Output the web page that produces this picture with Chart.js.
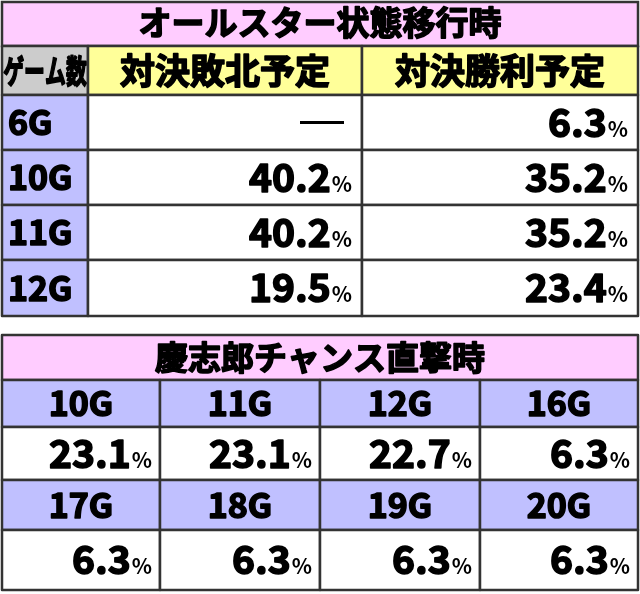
<!DOCTYPE html>
<html><head><meta charset="utf-8">
<script src="https://cdn.jsdelivr.net/npm/chart.js@4"></script>
<style>html,body{margin:0;padding:0;background:#fff}#c{display:block}</style>
</head><body>
<div style="width:640px;height:594px"><canvas id="c"></canvas></div>
<script>
const title1 = "オールスター状態移行時";
const corner1 = "ゲーム数";
const columns1 = ["対決敗北予定", "対決勝利予定"];
const games1 = ["6G", "10G", "11G", "12G"];
const lose1 = [null, 40.2, 40.2, 19.5];
const win1 = [6.3, 35.2, 35.2, 23.4];

const title2 = "慶志郎チャンス直撃時";
const games2 = ["10G", "11G", "12G", "16G", "17G", "18G", "19G", "20G"];
const values2 = [23.1, 23.1, 22.7, 6.3, 6.3, 6.3, 6.3, 6.3];

const FONT = '"Noto Sans CJK JP", "Noto Sans", sans-serif';
const BORDER = "#333";

function tablePlugin() {
    return {
        id: "table",
        afterDraw(chart) {
            const ctx = chart.ctx;
            const xs = chart.scales.x, ys = chart.scales.y;
            const X = v => xs.getPixelForValue(v);
            const Y = v => ys.getPixelForValue(v);

            function cell(x0, y0, x1, y1, fill) {
                ctx.fillStyle = fill;
                ctx.fillRect(X(x0), Y(y0), X(x1) - X(x0), Y(y1) - Y(y0));
                ctx.strokeStyle = BORDER;
                ctx.lineWidth = 2.5;
                ctx.strokeRect(X(x0), Y(y0), X(x1) - X(x0), Y(y1) - Y(y0));
            }
            function heavy(s, x, y) {
                ctx.fillStyle = "#000";
                ctx.strokeStyle = "#000";
                ctx.lineWidth = 1.6;
                ctx.lineJoin = "round";
                ctx.fillText(s, x, y);
                ctx.strokeText(s, x, y);
            }
            function text(s, x, y, size, align) {
                ctx.font = "bold " + size + "px " + FONT;
                ctx.textAlign = align;
                ctx.textBaseline = "middle";
                heavy(s, X(x), Y(y));
            }
            function pct(v, xr, y) {
                ctx.textBaseline = "alphabetic";
                ctx.textAlign = "right";
                ctx.font = "bold 21px " + FONT;
                const w = ctx.measureText("%").width;
                ctx.fillStyle = "#000";
                ctx.fillText("%", X(xr), Y(y) + 14);
                ctx.font = "bold 39px " + FONT;
                heavy(v.toFixed(1), X(xr) - w - 1, Y(y) + 14);
            }

            // table 1
            cell(2, 2, 638, 46, "#ffccff");
            text(title1, 320, 22, 33, "center");
            cell(2, 46, 88, 95, "#cccccc");
            ctx.save();
            ctx.translate(X(45), Y(71)); ctx.scale(0.72, 1.1);
            ctx.font = "bold 29px " + FONT;
            ctx.textAlign = "center"; ctx.textBaseline = "middle";
            heavy(corner1, 0, 0);
            ctx.restore();
            const c1 = [88, 362, 638];
            columns1.forEach((s, i) => {
                cell(c1[i], 46, c1[i + 1], 95, "#ffff99");
                text(s, (c1[i] + c1[i + 1]) / 2, 71, 35, "center");
            });
            const r1 = [95, 150, 205, 260, 316];
            games1.forEach((g, i) => {
                const ym = (r1[i] + r1[i + 1]) / 2;
                cell(2, r1[i], 88, r1[i + 1], "#c0c0ff");
                text(g, 8, ym, 34, "left");
                cell(88, r1[i], 362, r1[i + 1], "#fff");
                cell(362, r1[i], 638, r1[i + 1], "#fff");
                if (lose1[i] === null) {
                    ctx.fillStyle = "#000";
                    ctx.fillRect(X(300), Y(ym) - 1.5, X(344) - X(300), 3);
                } else pct(lose1[i], 352, ym);
                pct(win1[i], 628, ym);
            });

            // table 2
            cell(2, 335, 638, 380, "#ffccff");
            text(title2, 320, 357, 33, "center");
            const c2 = [2, 160, 320, 480, 638];
            const r2 = [380, 427, 480, 530, 590];
            games2.forEach((g, i) => {
                const col = i % 4, row = Math.floor(i / 4);
                const yh0 = r2[row * 2], yh1 = r2[row * 2 + 1], yv1 = r2[row * 2 + 2];
                cell(c2[col], yh0, c2[col + 1], yh1, "#c0c0ff");
                text(g, (c2[col] + c2[col + 1]) / 2, (yh0 + yh1) / 2, 34, "center");
                cell(c2[col], yh1, c2[col + 1], yv1, "#fff");
                pct(values2[i], c2[col + 1] - 8, (yh1 + yv1) / 2);
            });
        }
    };
}

new Chart(document.getElementById("c"), {
    type: "scatter",
    data: { datasets: [{ data: [], pointRadius: 0 }] },
    options: {
        responsive: true, maintainAspectRatio: false, animation: false,
        layout: { padding: 0 },
        plugins: { legend: { display: false }, tooltip: { enabled: false } },
        scales: {
            x: { type: "linear", min: 0, max: 640, display: false },
            y: { type: "linear", min: 0, max: 594, reverse: true, display: false }
        }
    },
    plugins: [tablePlugin()]
});
</script>
</body></html>
